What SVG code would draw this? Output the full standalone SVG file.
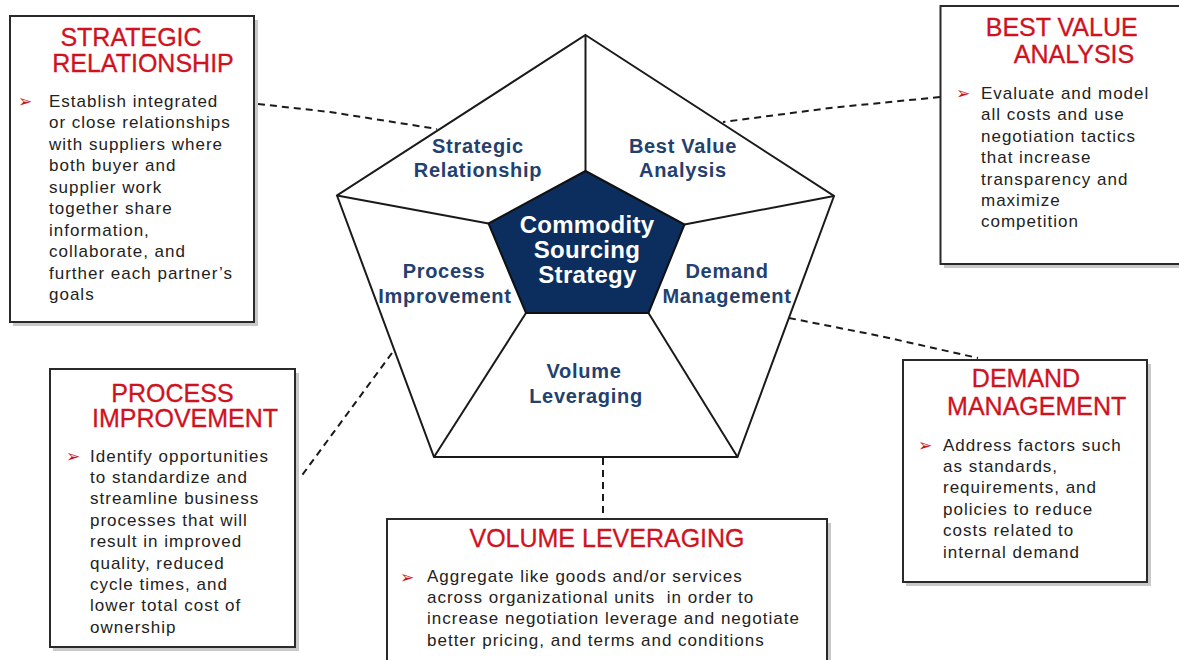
<svg xmlns="http://www.w3.org/2000/svg" width="1179" height="660" viewBox="0 0 1179 660">
<style>
.box{fill:#fff;stroke:#2a2a2a;stroke-width:2}
.shadow{fill:#c9c9c9}
.title{font-family:"Liberation Sans",Arial,sans-serif;font-size:25px;fill:#d0121f;text-anchor:middle;stroke:#d0121f;stroke-width:0.3}
.body{font-family:"Liberation Sans",Arial,sans-serif;font-size:17px;fill:#222;letter-spacing:1px}
.bul{font-family:"DejaVu Sans",sans-serif;font-size:17px;fill:#d0121f}
.lbl{font-family:"Liberation Sans",Arial,sans-serif;font-size:20px;font-weight:bold;fill:#23406f;text-anchor:middle;letter-spacing:0.7px}
.ctr{font-family:"Liberation Sans",Arial,sans-serif;font-size:24px;font-weight:bold;fill:#fff;text-anchor:middle;letter-spacing:0.3px}
.pent{fill:#fff;stroke:#1a1a1a;stroke-width:2}
.div{stroke:#1a1a1a;stroke-width:2;fill:none}
.dash{stroke:#1a1a1a;stroke-width:2;fill:none;stroke-dasharray:7,5}
</style>
<rect width="1179" height="660" fill="#fff"/>

<g id="pentagon">
  <polygon class="pent" points="585.5,35 834,196 737.5,457 434,457 337,195.5"/>
  <line class="div" x1="585.5" y1="35" x2="585.5" y2="171"/>
  <line class="div" x1="834" y1="196" x2="684.5" y2="224.5"/>
  <line class="div" x1="737.5" y1="457" x2="648.5" y2="313"/>
  <line class="div" x1="434" y1="457" x2="526" y2="313"/>
  <line class="div" x1="337" y1="195.5" x2="488.5" y2="223.5"/>
  <text class="lbl" x="478" y="153">Strategic</text>
  <text class="lbl" x="478" y="177">Relationship</text>
  <text class="lbl" x="683" y="153">Best Value</text>
  <text class="lbl" x="683" y="177">Analysis</text>
  <text class="lbl" x="444" y="278">Process</text>
  <text class="lbl" x="445" y="303">Improvement</text>
  <text class="lbl" x="727" y="278">Demand</text>
  <text class="lbl" x="727" y="303">Management</text>
  <text class="lbl" x="584" y="378">Volume</text>
  <text class="lbl" x="586" y="403">Leveraging</text>
</g>

<g id="center">
  <polygon points="585.5,171 684.5,224.5 648.5,313 526,313 488.5,223.5" fill="#0b2e5e" stroke="#111" stroke-width="2"/>
  <text class="ctr" x="587" y="233">Commodity</text>
  <text class="ctr" x="587" y="258">Sourcing</text>
  <text class="ctr" x="587.5" y="283">Strategy</text>
</g>

<g id="connectors">
  <polyline class="dash" points="258,104 330,112 437,129"/>
  <polyline class="dash" points="940,97 830,108 723,122"/>
  <polyline class="dash" points="789,318 880,336 978,358"/>
  <line class="dash" x1="392" y1="353" x2="300" y2="478"/>
  <line class="dash" x1="603" y1="458" x2="603" y2="519"/>
</g>

<g id="strategic-relationship">
  <rect class="shadow" x="13" y="20" width="245" height="306"/>
  <rect class="box" x="10" y="16" width="244" height="306"/>
  <text class="title" x="131" y="45.5">STRATEGIC</text>
  <text class="title" x="143" y="71.5">RELATIONSHIP</text>
  <text class="bul" x="18" y="107">➢</text>
  <text class="body">
    <tspan x="49" y="106.5">Establish integrated</tspan>
    <tspan x="49" y="128">or close relationships</tspan>
    <tspan x="49" y="149.5">with suppliers where</tspan>
    <tspan x="49" y="171">both buyer and</tspan>
    <tspan x="49" y="192.5">supplier work</tspan>
    <tspan x="49" y="214">together share</tspan>
    <tspan x="49" y="235.5">information,</tspan>
    <tspan x="49" y="257">collaborate, and</tspan>
    <tspan x="49" y="278.5">further each partner’s</tspan>
    <tspan x="49" y="300">goals</tspan>
  </text>
</g>

<g id="best-value-analysis">
  <rect class="shadow" x="944" y="10" width="250" height="258"/>
  <rect class="box" x="940.5" y="6" width="250" height="258"/>
  <text class="title" x="1061.7" y="36">BEST VALUE</text>
  <text class="title" x="1074" y="63">ANALYSIS</text>
  <text class="bul" x="956" y="99">➢</text>
  <text class="body">
    <tspan x="981" y="99">Evaluate and model</tspan>
    <tspan x="981" y="120.4">all costs and use</tspan>
    <tspan x="981" y="141.8">negotiation tactics</tspan>
    <tspan x="981" y="163.2">that increase</tspan>
    <tspan x="981" y="184.6">transparency and</tspan>
    <tspan x="981" y="206">maximize</tspan>
    <tspan x="981" y="227.4">competition</tspan>
  </text>
</g>

<g id="process-improvement">
  <rect class="shadow" x="53" y="373" width="246" height="278"/>
  <rect class="box" x="50" y="369" width="245" height="278"/>
  <text class="title" x="172.5" y="401.5">PROCESS</text>
  <text class="title" x="185" y="427">IMPROVEMENT</text>
  <text class="bul" x="66" y="462">➢</text>
  <text class="body">
    <tspan x="90" y="461.5">Identify opportunities</tspan>
    <tspan x="90" y="482.9">to standardize and</tspan>
    <tspan x="90" y="504.3">streamline business</tspan>
    <tspan x="90" y="525.7">processes that will</tspan>
    <tspan x="90" y="547.1">result in improved</tspan>
    <tspan x="90" y="568.5">quality, reduced</tspan>
    <tspan x="90" y="589.9">cycle times, and</tspan>
    <tspan x="90" y="611.3">lower total cost of</tspan>
    <tspan x="90" y="632.7">ownership</tspan>
  </text>
</g>

<g id="demand-management">
  <rect class="shadow" x="906" y="364" width="245" height="222"/>
  <rect class="box" x="903" y="360" width="244" height="222"/>
  <text class="title" x="1026" y="387">DEMAND</text>
  <text class="title" x="1036.7" y="415">MANAGEMENT</text>
  <text class="bul" x="918" y="451">➢</text>
  <text class="body">
    <tspan x="943" y="450.5">Address factors such</tspan>
    <tspan x="943" y="471.9">as standards,</tspan>
    <tspan x="943" y="493.3">requirements, and</tspan>
    <tspan x="943" y="514.7">policies to reduce</tspan>
    <tspan x="943" y="536.1">costs related to</tspan>
    <tspan x="943" y="557.5">internal demand</tspan>
  </text>
</g>

<g id="volume-leveraging">
  <rect class="shadow" x="390" y="523" width="441" height="150"/>
  <rect class="box" x="387" y="519" width="440" height="150"/>
  <text class="title" x="607" y="546.5">VOLUME LEVERAGING</text>
  <text class="bul" x="400" y="583">➢</text>
  <text class="body">
    <tspan x="427" y="581.5">Aggregate like goods and/or services</tspan>
    <tspan x="427" y="602.9">across organizational units&#160; in order to</tspan>
    <tspan x="427" y="624.3">increase negotiation leverage and negotiate</tspan>
    <tspan x="427" y="645.7">better pricing, and terms and conditions</tspan>
  </text>
</g>
</svg>
